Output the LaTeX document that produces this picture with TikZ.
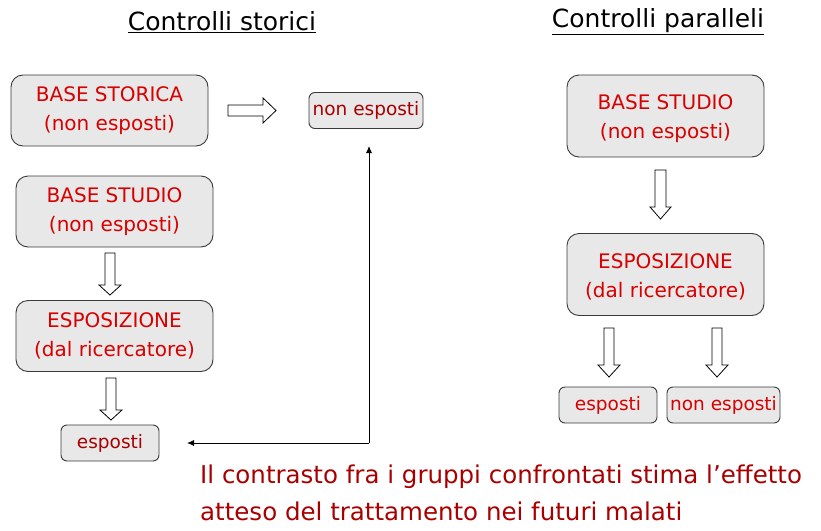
\documentclass[tikz,border=0pt]{standalone}
\usepackage{fontspec}
\setmainfont{DejaVu Sans}
\usetikzlibrary{arrows.meta}
\definecolor{boxred}{HTML}{D80000}
\definecolor{darkred}{HTML}{A80000}
\definecolor{boxfill}{HTML}{E8E8E8}
\definecolor{boxline}{HTML}{3A3A3A}
\tikzset{
  bigbox/.style={draw=boxline, line width=0.9pt, fill=boxfill, rounded corners=12pt,
    minimum width=197pt, minimum height=71pt, align=center, text=boxred,
    font=\fontsize{20}{29}\selectfont, inner sep=0pt},
  smallbox/.style={draw=boxline, line width=0.9pt, fill=boxfill, rounded corners=6pt,
    minimum height=36pt, align=center, text=darkred,
    font=\fontsize{18.5}{20}\selectfont, inner sep=0pt},
  harrow/.style={draw=black, line width=0.8pt, fill=white, line join=miter},
  link/.style={draw=black, line width=0.9pt, -{Latex[length=7pt,width=6pt]}},
  title/.style={font=\fontsize{25}{29}\selectfont, text=black},
}
\begin{document}
\begin{tikzpicture}[x=1pt,y=-1pt]
\useasboundingbox (0,0) rectangle (821,530);
% titles
\node[title] (t1) at (222,22) {\underline{Controlli storici}};
\node[title] (t2) at (658,22) {\underline{Controlli paralleli}};
% left column
\node[bigbox] (bs) at (109.5,110.5) {BASE STORICA\\(non esposti)};
\node[smallbox, minimum width=114pt] (ne1) at (366,110.5) {non esposti};
\node[bigbox] (bst) at (114.5,211.5) {BASE STUDIO\\(non esposti)};
\node[bigbox] (esp) at (114.5,336) {ESPOSIZIONE\\(dal ricercatore)};
\node[smallbox, minimum width=98pt] (e1) at (110,443) {esposti};
% right column
\node[bigbox, minimum height=82pt] (bst2) at (665.5,116) {};
\node[text=boxred, font=\fontsize{20}{29}\selectfont, align=center] (bst2t) at (665.5,118.5) {BASE STUDIO\\(non esposti)};
\node[bigbox, minimum height=82pt] (esp2) at (665.5,274.5) {};
\node[text=boxred, font=\fontsize{20}{29}\selectfont, align=center] (esp2t) at (665.5,276.5) {ESPOSIZIONE\\(dal ricercatore)};
\node[smallbox, minimum width=98pt, text=boxred] (e2) at (608,405) {esposti};
\node[smallbox, minimum width=113pt, text=boxred] (ne2) at (723.5,405) {non esposti};
% hollow arrows
\draw[harrow] (228,105) -- (263,105) -- (263,98) -- (276,110.5) -- (263,123) -- (263,116) -- (228,116) -- cycle;
\draw[harrow] (105,253) -- (115,253) -- (115,285) -- (121,285) -- (110,295) -- (99,285) -- (105,285) -- cycle;
\draw[harrow] (106,378) -- (116,378) -- (116,410) -- (122,410) -- (111,420) -- (100,410) -- (106,410) -- cycle;
\draw[harrow] (655,170) -- (666,170) -- (666,207) -- (671,207) -- (660.5,219) -- (650,207) -- (655,207) -- cycle;
\draw[harrow] (604,328) -- (614,328) -- (614,365) -- (620,365) -- (609,377) -- (598,365) -- (604,365) -- cycle;
\draw[harrow] (712,328) -- (722,328) -- (722,365) -- (728,365) -- (717,377) -- (706,365) -- (712,365) -- cycle;
% connector
\coordinate (c1) at (187,443);
\coordinate (c2) at (369,146);
\draw[link] (369,443) -- (c1);
\draw[link] (369,443) -- (c2);
% bottom text
\node[anchor=north west, text=darkred, font=\fontsize{24.5}{37}\selectfont, align=left, inner sep=0pt] (txt) at (200,465)
  {Il contrasto fra i gruppi confrontati stima l’effetto\\atteso del trattamento nei futuri malati};
\end{tikzpicture}
\end{document}
